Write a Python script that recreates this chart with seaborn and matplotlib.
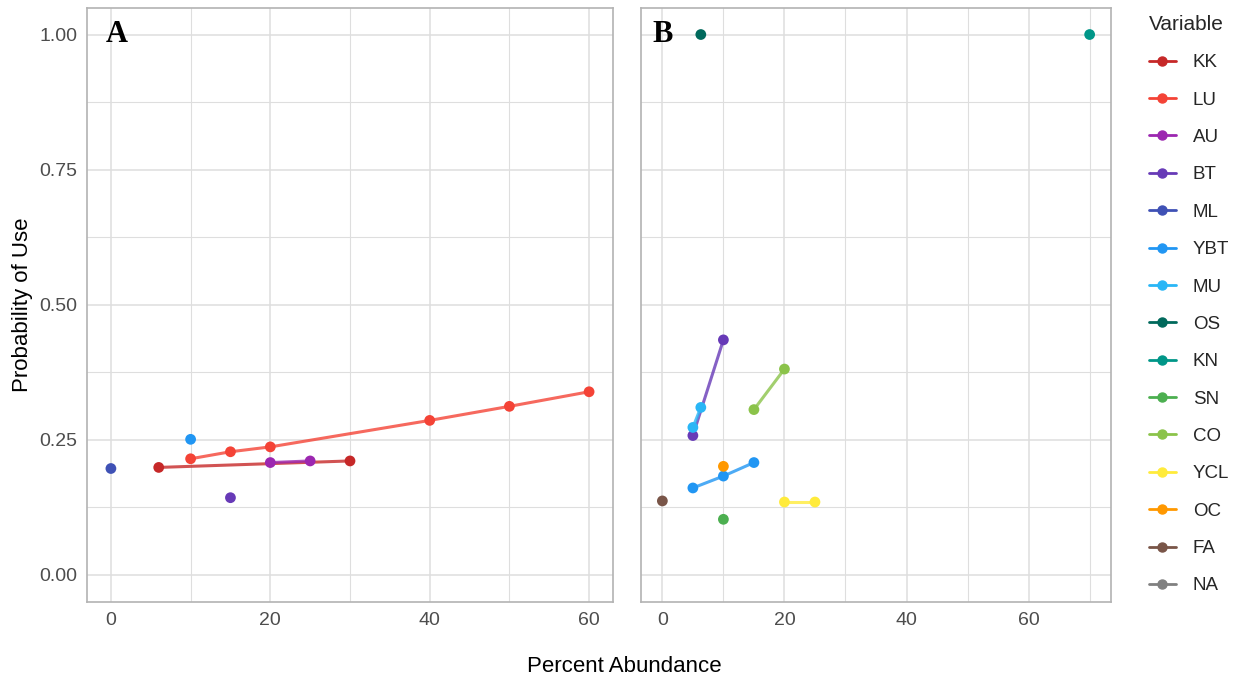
import matplotlib
matplotlib.use("Agg")
import matplotlib.pyplot as plt
from matplotlib.lines import Line2D
from matplotlib.ticker import MultipleLocator
import seaborn as sns
import pandas as pd

sns.set_style("white")
plt.rcParams['font.family'] = ['Liberation Sans', 'DejaVu Sans']

# ---- data ----
variables = ["KK", "LU", "AU", "BT", "ML", "YBT", "MU", "OS", "KN", "SN", "CO", "YCL", "OC", "FA", "NA"]
colors = ["#C62828", "#F44336", "#9C27B0", "#673AB7", "#3F51B5", "#2196F3", "#29B6F6", "#00695C",
          "#009688", "#4CAF50", "#8BC34A", "#FFEB3B", "#FF9800", "#795548", "#808080"]

# Panel A
a_var = ["ML", "KK", "KK", "YBT", "LU", "LU", "LU", "LU", "LU", "LU", "BT", "AU", "AU"]
a_x = [0, 6, 30, 10, 10, 15, 20, 40, 50, 60, 15, 20, 25]
a_y = [0.197, 0.199, 0.211, 0.251, 0.215, 0.228, 0.237, 0.286, 0.312, 0.339, 0.143, 0.208, 0.211]

# Panel B
b_var = ["OS", "KN", "BT", "BT", "MU", "MU", "CO", "CO", "YBT", "YBT", "YBT", "OC", "SN", "FA", "YCL", "YCL"]
b_x = [6.3, 70, 5, 10, 5, 6.3, 15, 20, 5, 10, 15, 10, 10, 0, 20, 25]
b_y = [1.0, 1.0, 0.258, 0.435, 0.273, 0.310, 0.306, 0.381, 0.161, 0.183, 0.208, 0.201, 0.103, 0.137, 0.135, 0.135]

palette = dict(zip(variables, colors))
dfa = pd.DataFrame({"Variable": a_var, "x": a_x, "y": a_y})
dfb = pd.DataFrame({"Variable": b_var, "x": b_x, "y": b_y})

W, H = 1238, 682
fig = plt.figure(figsize=(W / 100, H / 100), dpi=100)

def px_axes(l, r, t, b):
    return fig.add_axes([l / W, 1 - b / H, (r - l) / W, (b - t) / H])

axA = px_axes(87, 613, 7.5, 602)
axB = px_axes(641, 1111, 7.5, 602)

grid_c = "#DEDEDE"
for ax, df, xlim, label, lx in [(axA, dfa, (-3, 63), "A", 0.7), (axB, dfb, (-3.5, 73.5), "B", 0.0)]:
    order = [v for v in variables if v in set(df["Variable"])]
    sns.lineplot(data=df, x="x", y="y", hue="Variable", hue_order=order, palette=palette,
                 linewidth=2.2, alpha=0.8, legend=False, ax=ax, estimator=None, sort=True)
    sns.scatterplot(data=df, x="x", y="y", hue="Variable", hue_order=order, palette=palette,
                    s=60, linewidth=0, legend=False, ax=ax, zorder=3)
    ax.set_xlim(*xlim)
    ax.set_ylim(-0.05, 1.05)
    ax.xaxis.set_major_locator(MultipleLocator(20))
    ax.xaxis.set_minor_locator(MultipleLocator(10))
    ax.yaxis.set_major_locator(MultipleLocator(0.25))
    ax.yaxis.set_minor_locator(MultipleLocator(0.125))
    ax.grid(True, which="major", color=grid_c, linewidth=1.1)
    ax.grid(True, which="minor", color=grid_c, linewidth=0.8)
    ax.set_axisbelow(True)
    for s in ax.spines.values():
        s.set_color("#B3B3B3")
        s.set_linewidth(1.2)
        s.set_visible(True)
    ax.tick_params(which="major", length=4, width=1, color="#B3B3B3", labelsize=14,
                   labelcolor="#4D4D4D", pad=3)
    ax.tick_params(which="minor", length=0)
    ax.set_xlabel("")
    ax.set_ylabel("")
    ax.text(lx, 1.0, label, ha="center", va="center", fontsize=22, fontweight="bold",
            family="Liberation Serif", color="black", zorder=5)

axA.yaxis.set_major_formatter(matplotlib.ticker.FormatStrFormatter("%.2f"))
axB.set_yticklabels([])

fig.text(624 / W, 1 - 667 / H, "Percent Abundance", ha="center", va="center", fontsize=16, color="black")
fig.text(23 / W, 1 - 305 / H, "Probability of Use", ha="center", va="center", rotation=90,
         fontsize=16, color="black")

handles = [Line2D([0], [0], color=c, marker="o", markersize=6.5, linewidth=2.0, label=v)
           for v, c in zip(variables, colors)]
leg = fig.legend(handles=handles, title="Variable", loc="upper left",
                 bbox_to_anchor=(1132 / W, 1 + 2 / H), frameon=False, fontsize=13.5,
                 title_fontsize=15, handlelength=1.45, handletextpad=0.9, labelspacing=1.08,
                 alignment="left")

fig.savefig("out.png", dpi=100)
